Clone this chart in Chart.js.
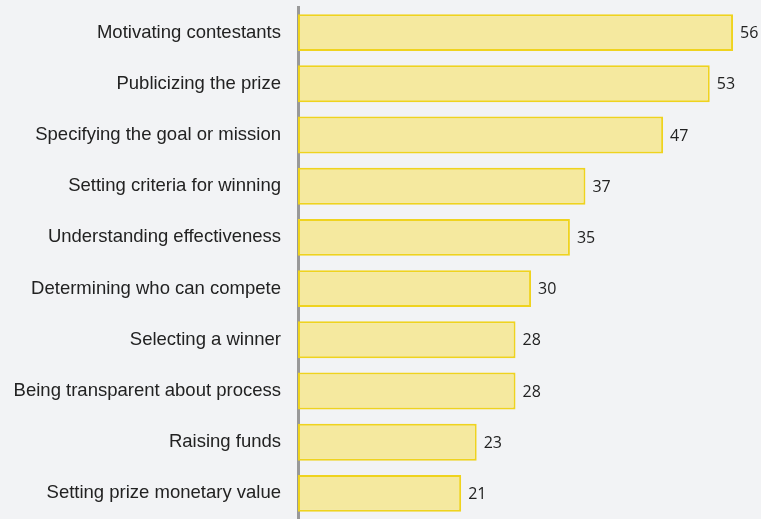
<!DOCTYPE html>
<html>
<head>
<meta charset="utf-8">
<script src="https://cdn.jsdelivr.net/npm/chart.js@4"></script>
<style>
html,body{margin:0;padding:0;background:#f2f3f5;}
canvas{display:block;}
</style>
</head>
<body>
<canvas id="c" width="761" height="519"></canvas>
<script>
const categories = [
  "Motivating contestants",
  "Publicizing the prize",
  "Specifying the goal or mission",
  "Setting criteria for winning",
  "Understanding effectiveness",
  "Determining who can compete",
  "Selecting a winner",
  "Being transparent about process",
  "Raising funds",
  "Setting prize monetary value"
];
const values = [56, 53, 47, 37, 35, 30, 28, 28, 23, 21];

const valueLabels = {
  id: 'valueLabels',
  afterDatasetsDraw(chart) {
    const ctx = chart.ctx;
    const meta = chart.getDatasetMeta(0);
    ctx.save();
    ctx.font = '16px "Open Sans", sans-serif';
    ctx.fillStyle = '#222';
    ctx.textAlign = 'left';
    ctx.textBaseline = 'middle';
    meta.data.forEach((bar, i) => {
      ctx.fillText(String(values[i]), bar.x + 7, bar.y + 1);
    });
    ctx.restore();
  }
};

new Chart(document.getElementById('c'), {
  type: 'bar',
  data: {
    labels: categories,
    datasets: [{
      data: values,
      backgroundColor: '#f5e99f',
      borderColor: '#efd31e',
      borderWidth: 2,
      borderSkipped: false,
      categoryPercentage: 1,
      barPercentage: 0.72
    }]
  },
  options: {
    indexAxis: 'y',
    responsive: false,
    animation: false,
    layout: { padding: { top: 7, bottom: 0, left: 0, right: 0 } },
    plugins: { legend: { display: false }, tooltip: { enabled: false } },
    scales: {
      x: {
        min: 0, max: 59.6,
        display: false,
        grid: { display: false }
      },
      y: {
        grid: { display: false, drawTicks: false },
        border: { display: true, color: '#999999', width: 3 },
        afterFit(scale) {
          scale.width = 298;
          scale.paddingTop = 0;
          scale.paddingBottom = 0;
        },
        ticks: {
          color: '#222',
          font: { family: '"Liberation Sans", Arial, sans-serif', size: 18.5 },
          padding: 17
        }
      }
    }
  },
  plugins: [valueLabels]
});
</script>
</body>
</html>
